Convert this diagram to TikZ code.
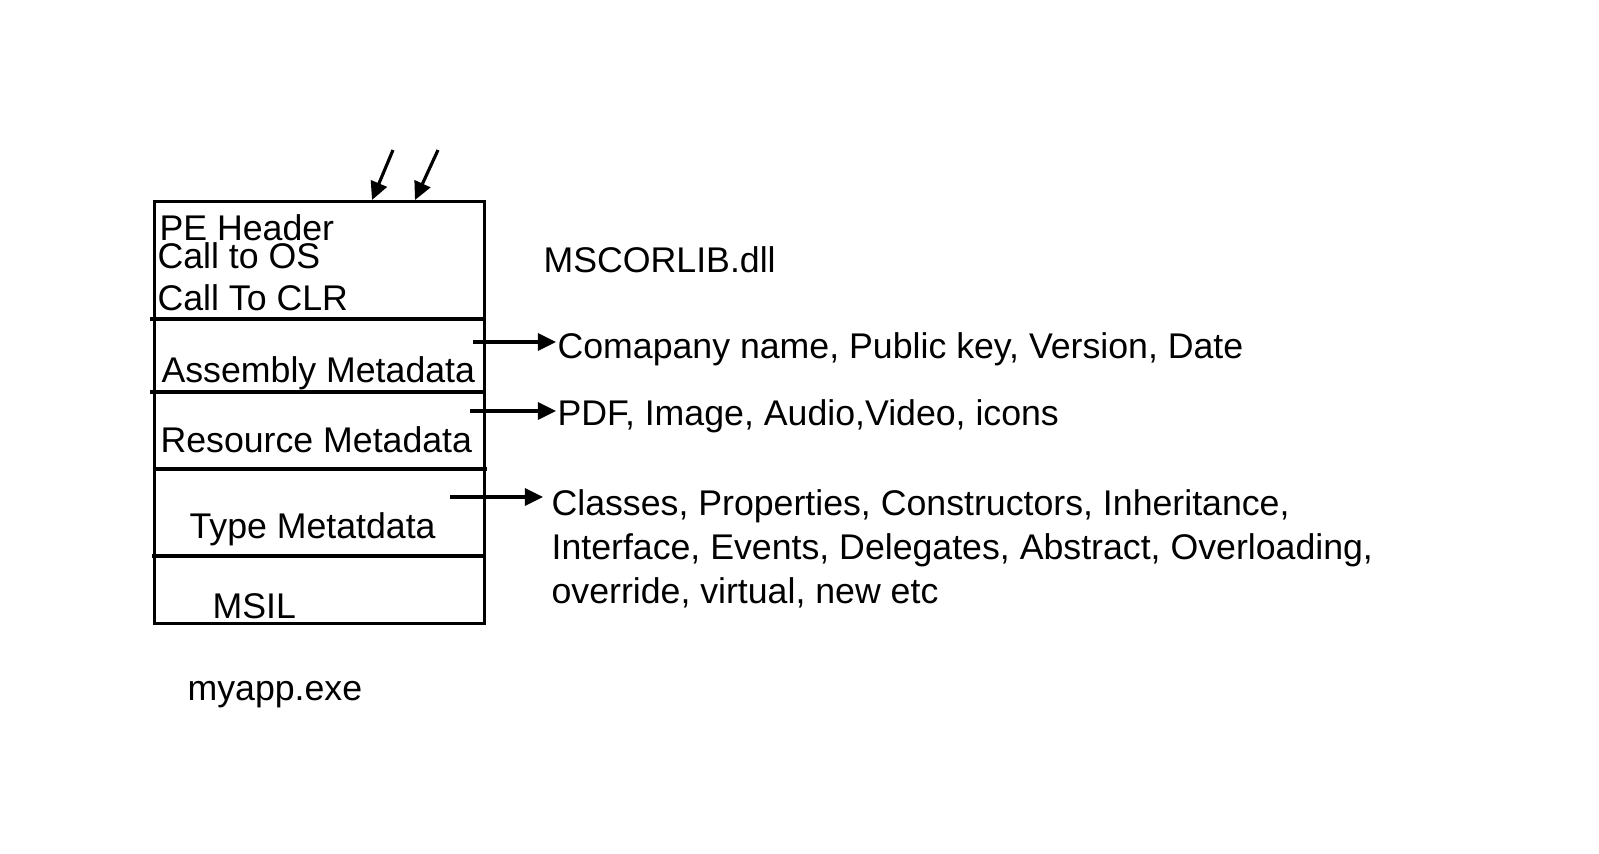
\documentclass[tikz,border=0pt]{standalone}
\usepackage{fontspec}
\setmainfont{Liberation Sans}
\usepackage{tikz}
\usetikzlibrary{arrows.meta}

\begin{document}
\begin{tikzpicture}[x=0.01cm, y=0.01cm, line width=0.9pt,
		arr/.style={-{Triangle[length=0.18cm,width=0.17cm]}}]
					\tikzstyle{every node}+=[inner sep=0pt, anchor=base west, font=\fontsize{10.15}{12.4}\selectfont]
					\useasboundingbox (0,0) rectangle (1599,-853);
					% myapp.exe box
					\node [draw, anchor=north west, minimum width=3.3cm, minimum height=4.22cm] (exe) at (153,-200) {};
					\draw [black] (150,-319) -- (483,-319);
					\draw [black] (150,-392) -- (483,-392);
					\draw [black] (153,-469) -- (487,-469);
					\draw [black] (152,-556) -- (485,-556);
					\node (pe) at (158,-240) {PE Header};
					\node (os) at (156,-268) {Call to OS};
					\node (clr) at (156,-310) {Call To CLR};
					\node (asm) at (160,-382) {Assembly Metadata};
					\node (res) at (159,-452) {Resource Metadata};
					\node (type) at (188,-538) {Type Metatdata};
					\node (msil) at (211,-618) {MSIL};
					\node (app) at (186,-700) {myapp.exe};
					% right side
					\node (dll) at (542,-272) {MSCORLIB.dll};
					\node (asminfo) at (556,-358) {Comapany name, Public key, Version, Date};
					\node (resinfo) at (556,-425) {PDF, Image, Audio,Video, icons};
					\node [align=left] (typeinfo) at (550,-603) {Classes, Properties, Constructors, Inheritance,\\Interface, Events, Delegates, Abstract, Overloading,\\override, virtual, new etc};
					% arrows
					\coordinate (in1) at (393,-150);
					\coordinate (in2) at (438,-150);
					\coordinate (top1) at (372,-200);
					\coordinate (top2) at (415,-200);
					\draw [arr] (in1) -- (top1);
					\draw [arr] (in2) -- (top2);
					\coordinate (a1) at (473,-342);
					\coordinate (a2) at (470,-411);
					\coordinate (a3) at (450,-497);
					\draw [arr] (a1) -- (a1 -| asminfo.west);
					\draw [arr] (a2) -- (a2 -| resinfo.west);
					\draw [arr, shorten >=0.07cm] (a3) -- (a3 -| typeinfo.west);
				\end{tikzpicture}
\end{document}
